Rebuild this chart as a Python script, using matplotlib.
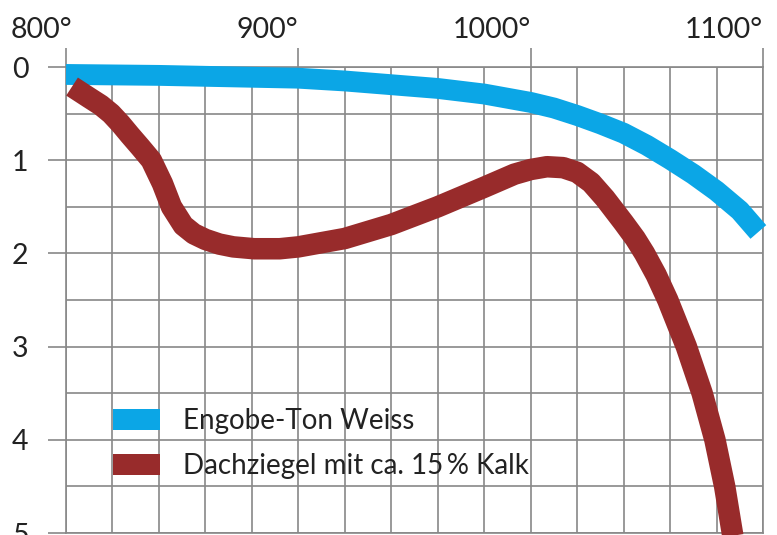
import numpy as np
import matplotlib.pyplot as plt
import matplotlib.transforms as mtransforms
from matplotlib.patches import Patch

plt.rcParams['font.family'] = ['Lato', 'DejaVu Sans']

# temperature in degrees, shrinkage values
engobe_t = [800, 820, 840, 860, 880, 900, 920, 940, 960, 980, 1000, 1010,
            1020, 1030, 1040, 1050, 1060, 1070, 1080, 1090, 1098]
engobe_v = [0.08, 0.085, 0.09, 0.10, 0.11, 0.12, 0.15, 0.19, 0.23, 0.29, 0.38,
            0.44, 0.52, 0.61, 0.71, 0.84, 0.99, 1.15, 1.33, 1.54, 1.77]

ziegel_t = [802.6, 810, 815, 819.4, 823.5, 827.5, 832, 836.7, 841.5, 845.4,
            850.5, 855, 860, 866, 872, 881, 892, 900, 920, 940, 960, 980,
            993, 1000, 1007, 1014, 1020, 1026, 1032, 1040, 1045, 1049, 1054,
            1059, 1067, 1073.8, 1079.3, 1083.5, 1087]
ziegel_v = [0.21, 0.33, 0.41, 0.50, 0.61, 0.73, 0.86, 1.0, 1.25, 1.50,
            1.70, 1.79, 1.85, 1.90, 1.93, 1.95, 1.95, 1.93, 1.84, 1.69,
            1.50, 1.29, 1.15, 1.10, 1.07, 1.08, 1.13, 1.24, 1.41, 1.67,
            1.84, 2.0, 2.23, 2.5, 3.0, 3.5, 4.0, 4.5, 5.03]

labels = ["Engobe-Ton Weiss", "Dachziegel mit ca. 15\u2009% Kalk"]
x_ticks = [800, 900, 1000, 1100]
x_ticklabels = ["800°", "900°", "1000°", "1100°"]
y_ticks = [0, 1, 2, 3, 4, 5]

blue = '#0ba6e6'
brown = '#982b2b'
gridc = '#888888'

fig = plt.figure(figsize=(7.77, 5.35), dpi=100)
ax = fig.add_axes([66/777, 1 - 533/535, 697/777, 466/535])

ax.plot(engobe_t, engobe_v, color=blue, lw=15, solid_capstyle='butt',
        solid_joinstyle='round', clip_on=False, zorder=3)
ax.plot(ziegel_t, ziegel_v, color=brown, lw=15.5, solid_capstyle='butt',
        solid_joinstyle='round', clip_on=False, zorder=4)

ax.set_xlim(800, 1100)
ax.set_ylim(5, 0)

ax.set_xticks(x_ticks)
ax.set_xticklabels(x_ticklabels)
ax.set_xticks(np.arange(800, 1101, 20), minor=True)
ax.set_yticks(y_ticks)
ax.set_yticks(np.arange(0, 5.01, 0.5), minor=True)

ax.xaxis.tick_top()
ax.tick_params(axis='x', which='major', length=14, width=1.2, color=gridc,
               labelsize=20.5, pad=3, labelcolor='#222222')
ax.tick_params(axis='x', which='minor', length=0)
ax.tick_params(axis='y', which='major', length=13, width=1.2, color=gridc,
               labelsize=20.5, pad=20, labelcolor='#222222')
ax.tick_params(axis='y', which='minor', length=0)
for lab in ax.get_xticklabels():
    lab.set_horizontalalignment('right')
# the first label sits a little right of its grid line
first = ax.xaxis.get_major_ticks()[0].label2
first.set_transform(first.get_transform() +
                    mtransforms.ScaledTranslation(6/100, 0, fig.dpi_scale_trans))
for lab in ax.get_yticklabels():
    lab.set_horizontalalignment('center')

ax.grid(True, which='both', color=gridc, lw=1.2)
ax.set_axisbelow(True)
for s in ax.spines.values():
    s.set_color(gridc)
    s.set_linewidth(1.2)

handles = [Patch(facecolor=blue, edgecolor='none'),
           Patch(facecolor=brown, edgecolor='none')]
leg = ax.legend(handles, labels, loc='upper left',
                bbox_to_anchor=(0.067, 0.268), frameon=False, fontsize=20,
                handlelength=1.69, handleheight=0.76, handletextpad=0.83,
                labelspacing=0.68, borderpad=0, borderaxespad=0)
for t in leg.get_texts():
    t.set_color('#222222')

fig.savefig('out.png', dpi=100)
